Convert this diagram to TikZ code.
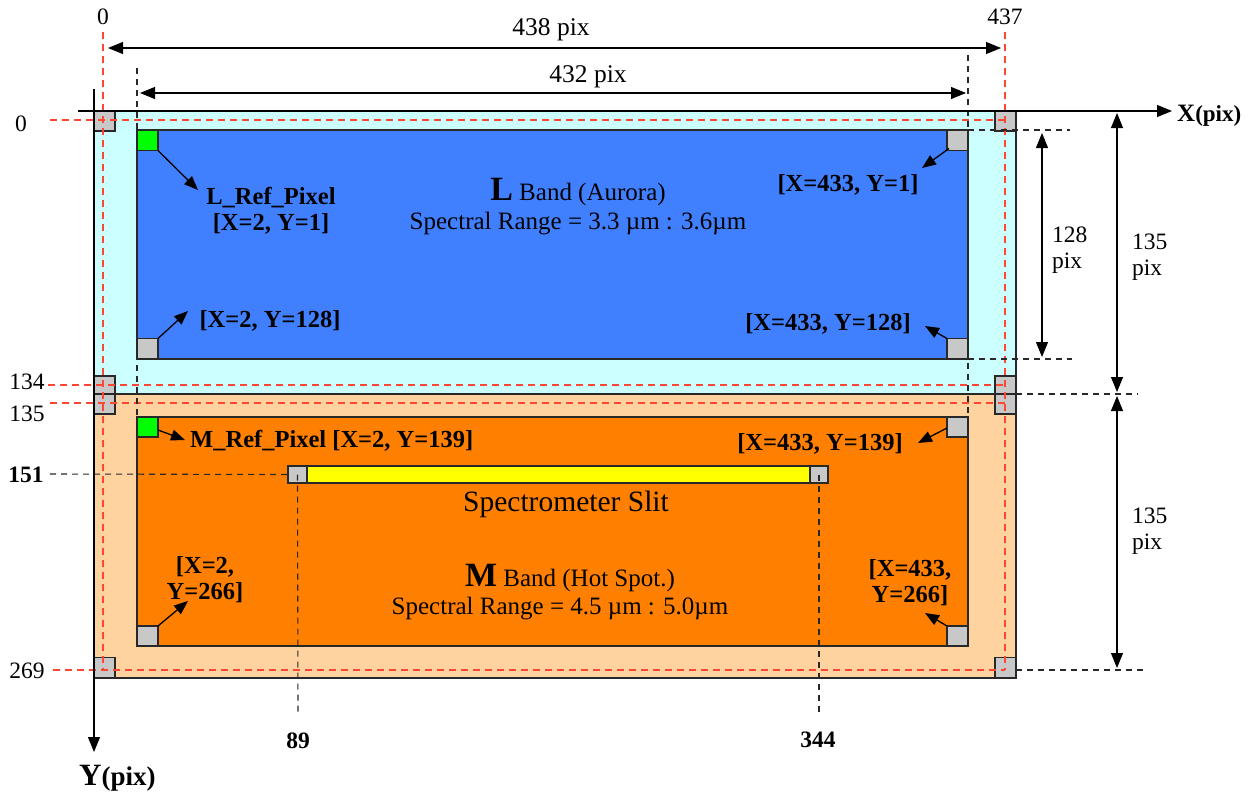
\documentclass[tikz,border=0pt]{standalone}
\usepackage{fontspec}
\setmainfont{Liberation Serif}
\usetikzlibrary{arrows.meta}
\definecolor{cyanbg}{RGB}{204,255,255}
\definecolor{peach}{RGB}{255,211,160}
\definecolor{bandblue}{RGB}{64,128,255}
\definecolor{bandorange}{RGB}{255,128,0}
\definecolor{sqgray}{RGB}{200,200,200}
\definecolor{sqgreen}{RGB}{0,255,0}
\definecolor{slityellow}{RGB}{255,255,0}
\definecolor{reddsh}{RGB}{255,70,50}
\definecolor{edge}{RGB}{40,40,40}
\begin{document}
\begin{tikzpicture}[x=1pt,y=-1pt,
  panel/.style={draw=edge, line width=1.5pt, inner sep=0pt, outer sep=0pt},
  sq/.style={draw=edge, fill=sqgray, line width=1.1pt, minimum width=21pt, minimum height=20pt, inner sep=0pt, outer sep=0pt},
  gsq/.style={sq, fill=sqgreen},
  rdash/.style={draw=reddsh, dash pattern=on 7pt off 5pt, line width=1.2pt},
  kdash/.style={draw=edge, dash pattern=on 6pt off 5pt, line width=1.1pt},
  dimline/.style={draw=black, line width=1.1pt, {Triangle[length=15pt,width=12pt]}-{Triangle[length=15pt,width=12pt]}},
  axisline/.style={draw=black, line width=1.1pt, -{Triangle[length=15pt,width=12pt]}},
  ann/.style={draw=black, line width=1.3pt, -{Triangle[length=14pt,width=11pt]}},
  lbl/.style={font=\fontsize{23.5}{26}\selectfont, inner sep=0pt},
  blbl/.style={font=\bfseries\fontsize{24.5}{26}\selectfont, inner sep=0pt, align=center},
  main/.style={font=\fontsize{25}{27}\selectfont, inner sep=0pt}
]
\useasboundingbox (0,0) rectangle (1259,798);

% panels
\node[panel, fill=cyanbg, minimum width=922pt, minimum height=283pt] (Lframe) at (555,252.5) {};
\node[panel, fill=peach, minimum width=922pt, minimum height=284pt] (Mframe) at (555,536) {};
\node[panel, fill=bandblue, minimum width=831pt, minimum height=229pt] (Lband) at (552.5,244.5) {};
\node[panel, fill=bandorange, minimum width=831pt, minimum height=229pt] (Mband) at (552.5,531.5) {};

% slit
\node[panel, line width=1.1pt, fill=slityellow, minimum width=540pt, minimum height=17pt] (slit) at (558,474.5) {};

% squares
\node[sq] (o00) at (104.5,121) {};
\node[sq] (o0R) at (1005.5,121) {};
\node[sq, minimum height=18pt] (o134L) at (104.5,385) {};
\node[sq, minimum height=18pt] (o134R) at (1005.5,385) {};
\node[sq] (o135L) at (104.5,404) {};
\node[sq] (o135R) at (1005.5,404) {};
\node[sq] (o269L) at (104.5,667.5) {};
\node[sq] (o269R) at (1005.5,667.5) {};
\node[gsq] (Ltl) at (147.5,140.5) {};
\node[sq] (Ltr) at (957.5,140.5) {};
\node[sq] (Lbl) at (147.5,348.5) {};
\node[sq] (Lbr) at (957.5,348.5) {};
\node[gsq] (Mtl) at (147.5,427) {};
\node[sq] (Mtr) at (957.5,427) {};
\node[sq] (Mbl) at (147.5,636) {};
\node[sq] (Mbr) at (957.5,636) {};
\node[sq, minimum width=19pt, minimum height=17pt] (s89) at (297.5,474.5) {};
\node[sq, minimum width=18pt, minimum height=17pt] (s344) at (819,474.5) {};

% red dashed reference lines
\coordinate (rv0a) at (103,32);   \coordinate (rv0b) at (103,670);
\coordinate (rv1a) at (1005,32);  \coordinate (rv1b) at (1005,670);
\coordinate (rh0a) at (50,120);   \coordinate (rh0b) at (1005,120);
\coordinate (rh1a) at (48,385);   \coordinate (rh1b) at (1005,385);
\coordinate (rh2a) at (50,403);   \coordinate (rh2b) at (1005,403);
\coordinate (rh3a) at (53,670);   \coordinate (rh3b) at (1005,670);
\draw[rdash] (rv0a) -- (rv0b);
\draw[rdash] (rv1a) -- (rv1b);
\draw[rdash] (rh0a) -- (rh0b);
\draw[rdash] (rh1a) -- (rh1b);
\draw[rdash] (rh2a) -- (rh2b);
\draw[rdash] (rh3a) -- (rh3b);

% black dashed guides
\coordinate (kv0a) at (137,68);  \coordinate (kv0b) at (137,646);
\coordinate (kv1a) at (968,55);  \coordinate (kv1b) at (968,646);
\coordinate (kh0a) at (968,130); \coordinate (kh0b) at (1070,130);
\coordinate (kh1a) at (968,359); \coordinate (kh1b) at (1072,359);
\coordinate (kh2a) at (1016,394); \coordinate (kh2b) at (1138,394);
\coordinate (kh3a) at (1016,670); \coordinate (kh3b) at (1144,670);
\coordinate (k151) at (50,474);
\coordinate (k89) at (298,716);
\coordinate (k344) at (819,712);
\draw[kdash] (kv0a) -- (kv0b);
\draw[kdash] (kv1a) -- (kv1b);
\draw[kdash] (kh0a) -- (kh0b);
\draw[kdash] (kh1a) -- (kh1b);
\draw[kdash] (kh2a) -- (kh2b);
\draw[kdash] (kh3a) -- (kh3b);
\draw[kdash] (k151) -- (s89.west);
\draw[kdash] (s89.center) -- (k89);
\draw[kdash] (s344.center) -- (k344);

% axes
\coordinate (xa) at (78,111);  \coordinate (xb) at (1172,111);
\coordinate (ya) at (94,89);   \coordinate (yb) at (94,752);
\draw[axisline] (xa) -- (xb);
\draw[axisline] (ya) -- (yb);
\node[anchor=west, inner sep=0pt, font=\bfseries] (xlab) at (1177,116) {\fontsize{25}{26}\selectfont X\fontsize{23}{24}\selectfont(pix)};
\node[anchor=west, inner sep=0pt, font=\bfseries] (ylab) at (79,778) {\fontsize{31}{32}\selectfont Y\fontsize{27}{28}\selectfont(pix)};

% dimensions
\coordinate (d438a) at (108,48);  \coordinate (d438b) at (1001,48);
\coordinate (d432a) at (140,93);  \coordinate (d432b) at (966,93);
\coordinate (d128a) at (1042,133); \coordinate (d128b) at (1042,357);
\coordinate (d135a) at (1117,113); \coordinate (d135b) at (1117,392);
\coordinate (d135c) at (1117,396); \coordinate (d135d) at (1117,668);
\draw[dimline] (d438a) -- (d438b);
\draw[dimline] (d432a) -- (d432b);
\draw[dimline] (d128a) -- (d128b);
\draw[dimline] (d135a) -- (d135b);
\draw[dimline] (d135c) -- (d135d);
\node[lbl, font=\fontsize{25.5}{27}\selectfont] (t438) at (551,30) {438 pix};
\node[lbl, font=\fontsize{25.5}{27}\selectfont] (t432) at (588,77) {432 pix};
\node[lbl, anchor=west, align=left] (t128) at (1052,250) {128\\pix};
\node[lbl, anchor=west, align=left] (t135a) at (1132,257) {135\\pix};
\node[lbl, anchor=west, align=left] (t135b) at (1132,531) {135\\pix};

% coordinate labels
\node[lbl] (n0top) at (103,17) {0};
\node[lbl] (n437) at (1005,17) {437};
\node[lbl] (n0left) at (21,124) {0};
\node[lbl] (n134) at (27,382) {134};
\node[lbl] (n135) at (27,414) {135};
\node[lbl, font=\bfseries\fontsize{23.5}{26}\selectfont] (n151) at (26,475) {151};
\node[lbl] (n269) at (27,671) {269};
\node[lbl, font=\bfseries\fontsize{23.5}{26}\selectfont] (n89) at (298,741) {89};
\node[lbl, font=\bfseries\fontsize{23.5}{26}\selectfont] (n344) at (818,740) {344};

% main texts
\node[main] (Ltitle) at (578,192) {{\bfseries\fontsize{34}{35}\selectfont L} Band (Aurora)};
\node[main] (Lrange) at (578,224) {Spectral Range = 3.3 µm : 3.6µm};
\node[main, font=\fontsize{29.5}{31}\selectfont] (slitlab) at (566,504) {Spectrometer Slit};
\node[main] (Mtitle) at (570,578) {{\bfseries\fontsize{34}{35}\selectfont M} Band (Hot Spot.)};
\node[main] (Mrange) at (560,609) {Spectral Range = 4.5 µm : 5.0µm};

% annotations
\node[blbl] (aLtl) at (271,211) {L\_Ref\_Pixel\\{}[X=2, Y=1]};
\node[blbl] (aLtr) at (848,185) {[X=433, Y=1]};
\node[blbl] (aLbl) at (270,321) {[X=2, Y=128]};
\node[blbl] (aLbr) at (828,324) {[X=433, Y=128]};
\node[blbl, anchor=west] (aMtl) at (190,441) {M\_Ref\_Pixel [X=2, Y=139]};
\node[blbl] (aMtr) at (820,444) {[X=433, Y=139]};
\node[blbl] (aMbl) at (205,580) {[X=2,\\Y=266]};
\node[blbl] (aMbr) at (910,583) {[X=433,\\Y=266]};

\coordinate (pLtl) at (198,190);
\coordinate (pLtr) at (922,168);
\coordinate (pLbl) at (188,311);
\coordinate (pLbr) at (925,326);
\coordinate (pMtl) at (185,440);
\coordinate (pMtr) at (918,443);
\coordinate (pMbl) at (188,601);
\coordinate (pMbr) at (925,613);
\draw[ann] (Ltl.south east) -- (pLtl);
\draw[ann] (Ltr.south west) ++(2,-2) -- (pLtr);
\draw[ann] (Lbl.north east) -- (pLbl);
\draw[ann] (Lbr.north west) -- (pLbr);
\draw[ann] (Mtl.east) ++(0,3) -- (pMtl);
\draw[ann] (Mtr.west) ++(0,1) -- (pMtr);
\draw[ann] (Mbl.north east) -- (pMbl);
\draw[ann] (Mbr.north west) -- (pMbr);
\end{tikzpicture}
\end{document}
